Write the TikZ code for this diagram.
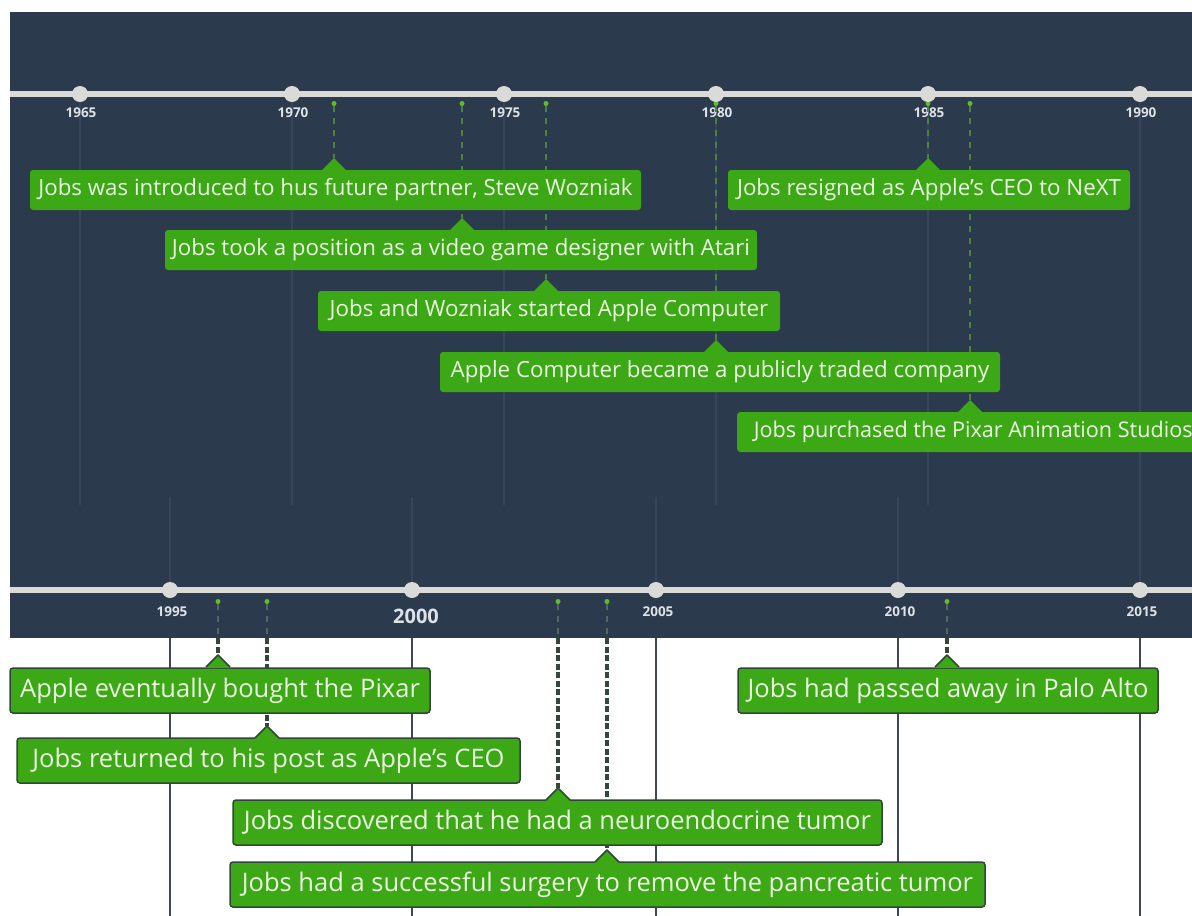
\documentclass[tikz,border=0pt]{standalone}
\usepackage{fontspec}
\setmainfont{Open Sans}
\definecolor{bg}{HTML}{2C3A4D}
\definecolor{gridc}{HTML}{35455A}
\definecolor{axisc}{HTML}{DADAD8}
\definecolor{yearc}{HTML}{DDE2E6}
\definecolor{boxg}{HTML}{3CA815}
\definecolor{boxtxt}{HTML}{EBF8E2}
\definecolor{dotg}{HTML}{5CBF2A}
\definecolor{dashtopc}{HTML}{4E8040}
\definecolor{dashbandc}{HTML}{56675F}
\definecolor{dashwhitec}{HTML}{30493B}
\definecolor{vlinec}{HTML}{3C4757}
\definecolor{boxedge}{HTML}{2F4737}
\tikzset{
  gridl/.style={gridc, line width=1.2},
  vline/.style={vlinec, line width=2.5},
  axisline/.style={axisc, line width=6},
  tick/.style={circle, fill=axisc, inner sep=0, minimum size=16},
  year/.style={text=yearc, inner sep=0, font=\fontsize{13.5}{13.5}\selectfont\bfseries},
  bigyear/.style={text=yearc, inner sep=0, font=\fontsize{20}{20}\selectfont\bfseries},
  evdot/.style={circle, fill=dotg, inner sep=0, minimum size=5},
  dashtop/.style={dashtopc, line width=1.6, dash pattern=on 6 off 6},
  dashband/.style={dashbandc, line width=1.6, dash pattern=on 6 off 6},
  dashwhite/.style={dashwhitec, line width=4, dash pattern=on 6 off 2.5},
  evtop/.style={fill=boxg, rounded corners=3, inner sep=0, text=boxtxt, font=\fontsize{22.3}{22.3}\selectfont},
  evbot/.style={fill=boxg, draw=boxedge, line width=1.5, rounded corners=3, inner sep=0, text=boxtxt, font=\fontsize{25.5}{25.5}\selectfont},
}
% tip on top of a box: #1 tip coordinate name
\newcommand{\tiptop}[1]{%
  \fill[boxg] ([xshift=-12.5pt,yshift=-12.5pt]#1) -- (#1) -- ([xshift=12.5pt,yshift=-12.5pt]#1) -- cycle;}
\newcommand{\tipbot}[1]{%
  \fill[boxg] ([xshift=-12.5pt,yshift=-13pt]#1) -- (#1) -- ([xshift=12.5pt,yshift=-13pt]#1) -- cycle;
  \draw[boxedge, line width=1.5, line join=round] ([xshift=-12pt,yshift=-12pt]#1) -- (#1) -- ([xshift=12pt,yshift=-12pt]#1);}
\begin{document}
\begin{tikzpicture}[x=1pt,y=-1pt]
\useasboundingbox (0,0) rectangle (1192,916);
\fill[white] (0,0) rectangle (1192,916);
\fill[bg] (10,12) rectangle (1192,638);

% faint grid lines in the dark area
\foreach \x in {80,292,504,716,928,1140} \draw[gridl] (\x,100) -- (\x,505);
\foreach \x in {170,412,656,898,1140} \draw[gridl] (\x,497) -- (\x,590);
% dark year lines in the white area
\foreach \x in {170,412,656,898,1140} \draw[vline] (\x,638) -- (\x,916);

% axes
\coordinate (axTL) at (10,94);  \coordinate (axTR) at (1192,94);
\coordinate (axBL) at (10,590); \coordinate (axBR) at (1192,590);
\draw[axisline] (axTL) -- (axTR);
\draw[axisline] (axBL) -- (axBR);

% event dots
\foreach \x/\n in {334/1,462/2,546/3,716/4,928/5,970/6} \node[evdot] (d\n) at (\x,103.5) {};
\foreach \x/\n in {218/7,267/8,558/9,607/10,947/11} \node[evdot] (d\n) at (\x,601.5) {};

% ticks and year labels
\foreach \x/\yr in {80/1965,292/1970,504/1975,716/1980,928/1985,1140/1990} {
  \node[tick] (t\yr) at (\x,94) {};
  \node[year] (l\yr) at (\x+1,113) {\yr};
}
\foreach \x/\yr in {170/1995,656/2005,898/2010,1140/2015} {
  \node[tick] (t\yr) at (\x,590) {};
  \node[year] (l\yr) at (\x+2,612) {\yr};
}
\node[tick] (t2000) at (412,590) {};
\node[bigyear] (l2000) at (416,616) {2000};

% tip coordinates
\coordinate (c1) at (334,158);
\coordinate (c2) at (462,218);
\coordinate (c3) at (546,279);
\coordinate (c4) at (716,340);
\coordinate (c5) at (928,158);
\coordinate (c6) at (970,400);
\coordinate (c7) at (218,655);
\coordinate (c8) at (267,726);
\coordinate (c9) at (558,788);
\coordinate (c10) at (607,850);
\coordinate (c11) at (947,655);
\foreach \n/\x in {7/218,8/267,9/558,10/607,11/947} \coordinate (w\n) at (\x,638);

% connectors
\foreach \n in {1,...,6} \draw[dashtop] (d\n) -- (c\n);
\foreach \n in {7,...,11} {
  \draw[dashband] (d\n) -- (w\n);
  \draw[dashwhite] (w\n) -- (c\n);
}

% top callouts
\node[evtop, minimum width=611, minimum height=40] (b1) at (335.5,190) {Jobs was introduced to hus future partner, Steve Wozniak};
\tiptop{c1}
\node[evtop, minimum width=402, minimum height=40] (b5) at (929,190) {Jobs resigned as Apple's CEO to NeXT};
\tiptop{c5}
\node[evtop, minimum width=592, minimum height=40] (b2) at (461,250) {Jobs took a position as a video game designer with Atari};
\tiptop{c2}
\node[evtop, minimum width=462, minimum height=40] (b3) at (549,311) {Jobs and Wozniak started Apple Computer};
\tiptop{c3}
\node[evtop, minimum width=560, minimum height=40] (b4) at (720,372) {Apple Computer became a publicly traded company};
\tiptop{c4}
\node[evtop, minimum width=465, minimum height=40, anchor=west, font=\fontsize{21.6}{21.6}\selectfont] (b6) at (737,432) {\hspace{7pt}Jobs purchased the Pixar Animation Studios\hfill};
\tiptop{c6}

% bottom callouts
\node[evbot, minimum width=420, minimum height=45] (b7) at (220,690.5) {Apple eventually bought the Pixar};
\tipbot{c7}
\node[evbot, minimum width=420, minimum height=45] (b11) at (948,690.5) {Jobs had passed away in Palo Alto};
\tipbot{c11}
\node[evbot, minimum width=503, minimum height=45] (b8) at (268.5,760.5) {Jobs returned to his post as Apple's CEO};
\tipbot{c8}
\node[evbot, minimum width=649, minimum height=45] (b9) at (557.5,822.5) {Jobs discovered that he had a neuroendocrine tumor};
\tipbot{c9}
\node[evbot, minimum width=755, minimum height=45] (b10) at (607.5,884.5) {Jobs had a successful surgery to remove the pancreatic tumor};
\tipbot{c10}
\end{tikzpicture}
\end{document}
